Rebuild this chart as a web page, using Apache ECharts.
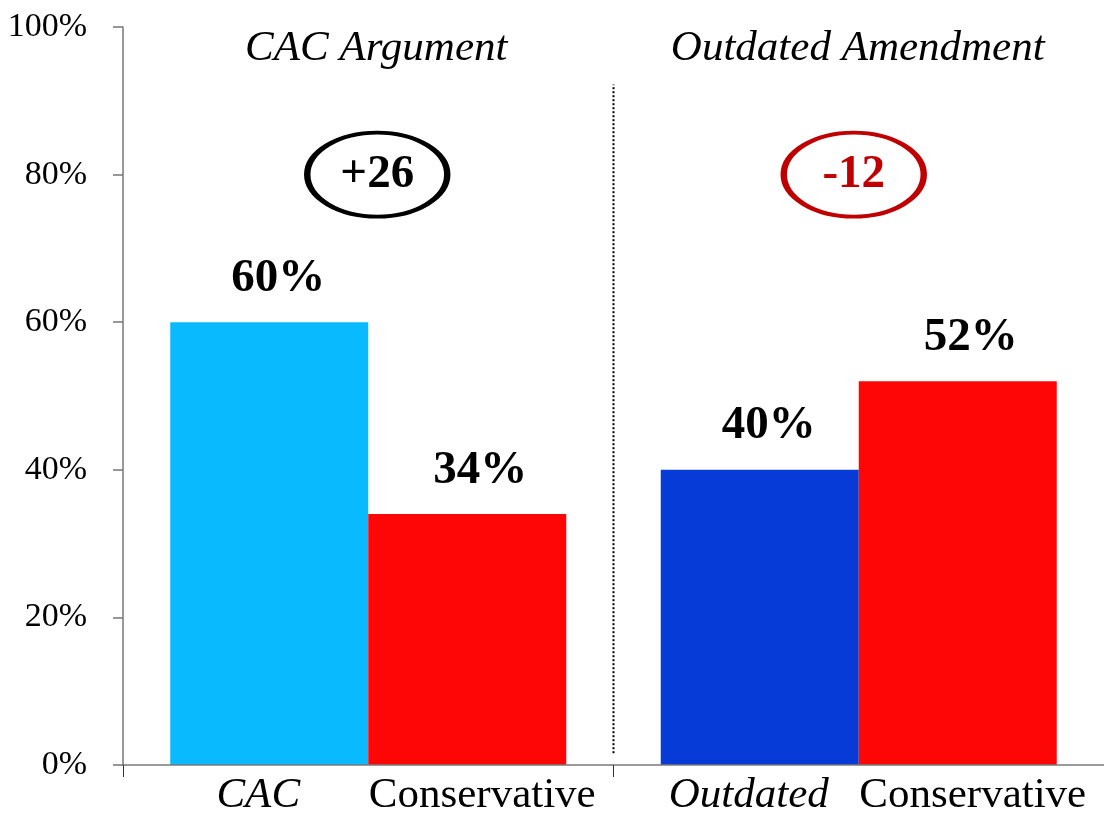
<!DOCTYPE html>
<html>
<head>
<meta charset="utf-8">
<script src="https://cdn.jsdelivr.net/npm/echarts@6/dist/echarts.min.js"></script>
<style>
  html, body { margin: 0; padding: 0; background: #fff; }
  #chart { width: 1104px; height: 817px; }
</style>
</head>
<body>
<div id="chart"></div>
<script>
// ---- data ----
const categories = ['CAC Argument', 'Outdated Amendment'];
const firstBarNames = ['CAC', 'Outdated'];
const secondBarNames = ['Conservative', 'Conservative'];
const firstBarValues = [60, 40];
const secondBarValues = [34, 52];
const diffLabels = ['+26', '-12'];
const diffLevel = [80, 80];
const headingLevel = [97, 97];
const yTicks = [0, 20, 40, 60, 80, 100];
const dividerX = [1, 1];
const dividerY = [1.6, 92.2];

// ---- styles ----
const SERIF = '"Liberation Serif", "Times New Roman", serif';
const firstBarColors = ['#09BBFE', '#073BD7'];
const secondBarColor = '#FE0606';
const diffColors = ['#000000', '#C00000'];
const diffOffsets = [[9, 0], [-5, 0]];
const headingOffsets = [[8, 0], [-1, 0]];

const chart = echarts.init(document.getElementById('chart'), null, { renderer: 'canvas' });

const option = {
  animation: false,
  backgroundColor: '#ffffff',
  grid: { left: 123, top: 27, width: 986, height: 740, containLabel: false },
  xAxis: [
    {
      type: 'category',
      data: categories,
      boundaryGap: true,
      z: 4,
      axisLine: { show: true, lineStyle: { color: '#7a7a7a', width: 1.5 } },
      axisTick: { show: true, length: 12, lineStyle: { color: '#333', width: 1 } },
      splitLine: { show: false },
      axisLabel: {
        interval: 0,
        margin: 9,
        formatter: function (v, i) {
          return '{a|' + firstBarNames[i] + '}{b|' + secondBarNames[i] + '}';
        },
        rich: {
          a: { width: 228, align: 'center', fontStyle: 'italic', fontSize: 43, fontFamily: SERIF, color: '#000' },
          b: { width: 220, align: 'center', fontSize: 43, fontFamily: SERIF, color: '#000' }
        }
      }
    },
    { type: 'value', min: 0, max: 2, show: false }
  ],
  yAxis: {
    type: 'value',
    min: yTicks[0],
    max: yTicks[yTicks.length - 1],
    interval: yTicks[1] - yTicks[0],
    z: 4,
    axisLine: { show: true, lineStyle: { color: '#777', width: 1.5 } },
    axisTick: { show: true, inside: false, length: 10, lineStyle: { color: '#777', width: 1.5 } },
    splitLine: { show: false },
    axisLabel: {
      formatter: '{value}%',
      fontSize: 34,
      fontFamily: SERIF,
      color: '#000',
      margin: 36
    }
  },
  series: [
    {
      type: 'bar',
      data: firstBarValues.map((v, i) => ({ value: v, itemStyle: { color: firstBarColors[i] } })),
      barGap: 0,
      barWidth: 198,
      label: {
        show: true, position: 'top', distance: 20, offset: [9, 0],
        formatter: '{c}%', fontSize: 47, fontWeight: 'bold', fontFamily: SERIF, color: '#000'
      },
      emphasis: { disabled: true },
      z: 3
    },
    {
      type: 'bar',
      data: secondBarValues,
      barGap: 0,
      barWidth: 198,
      itemStyle: { color: secondBarColor },
      label: {
        show: true, position: 'top', distance: 20, offset: [13, 0],
        formatter: '{c}%', fontSize: 47, fontWeight: 'bold', fontFamily: SERIF, color: '#000'
      },
      emphasis: { disabled: true },
      z: 3
    },
    {
      type: 'line',
      xAxisIndex: 1,
      data: dividerX.map((x, i) => [x, dividerY[i]]),
      symbol: 'none',
      lineStyle: { type: 'dotted', color: '#000', width: 2 },
      emphasis: { disabled: true },
      z: 1
    },
    {
      type: 'scatter',
      data: categories.map((c, i) => ({
        value: [c, diffLevel[i]],
        symbolOffset: diffOffsets[i],
        itemStyle: { color: 'rgba(0,0,0,0)', borderColor: diffColors[i], borderWidth: 5, opacity: 1 },
        label: { color: diffColors[i] }
      })),
      symbol: 'path://M0,50A50,50,0,1,1,100,50A50,50,0,1,1,0,50Z',
      symbolSize: [140, 84],
      itemStyle: { opacity: 1 },
      label: {
        show: true, position: 'inside',
        formatter: p => diffLabels[p.dataIndex],
        fontSize: 47, fontWeight: 'bold', fontFamily: SERIF
      },
      emphasis: { disabled: true },
      z: 5
    },
    {
      type: 'scatter',
      data: categories.map((c, i) => ({
        value: [c, headingLevel[i]],
        symbolOffset: headingOffsets[i]
      })),
      symbol: 'circle',
      symbolSize: 1,
      itemStyle: { color: 'rgba(0,0,0,0)', opacity: 1 },
      label: {
        show: true, position: 'inside',
        formatter: p => categories[p.dataIndex],
        fontSize: 43, fontStyle: 'italic', fontFamily: SERIF, color: '#000'
      },
      emphasis: { disabled: true },
      z: 5
    }
  ]
};

chart.setOption(option);
</script>
</body>
</html>
